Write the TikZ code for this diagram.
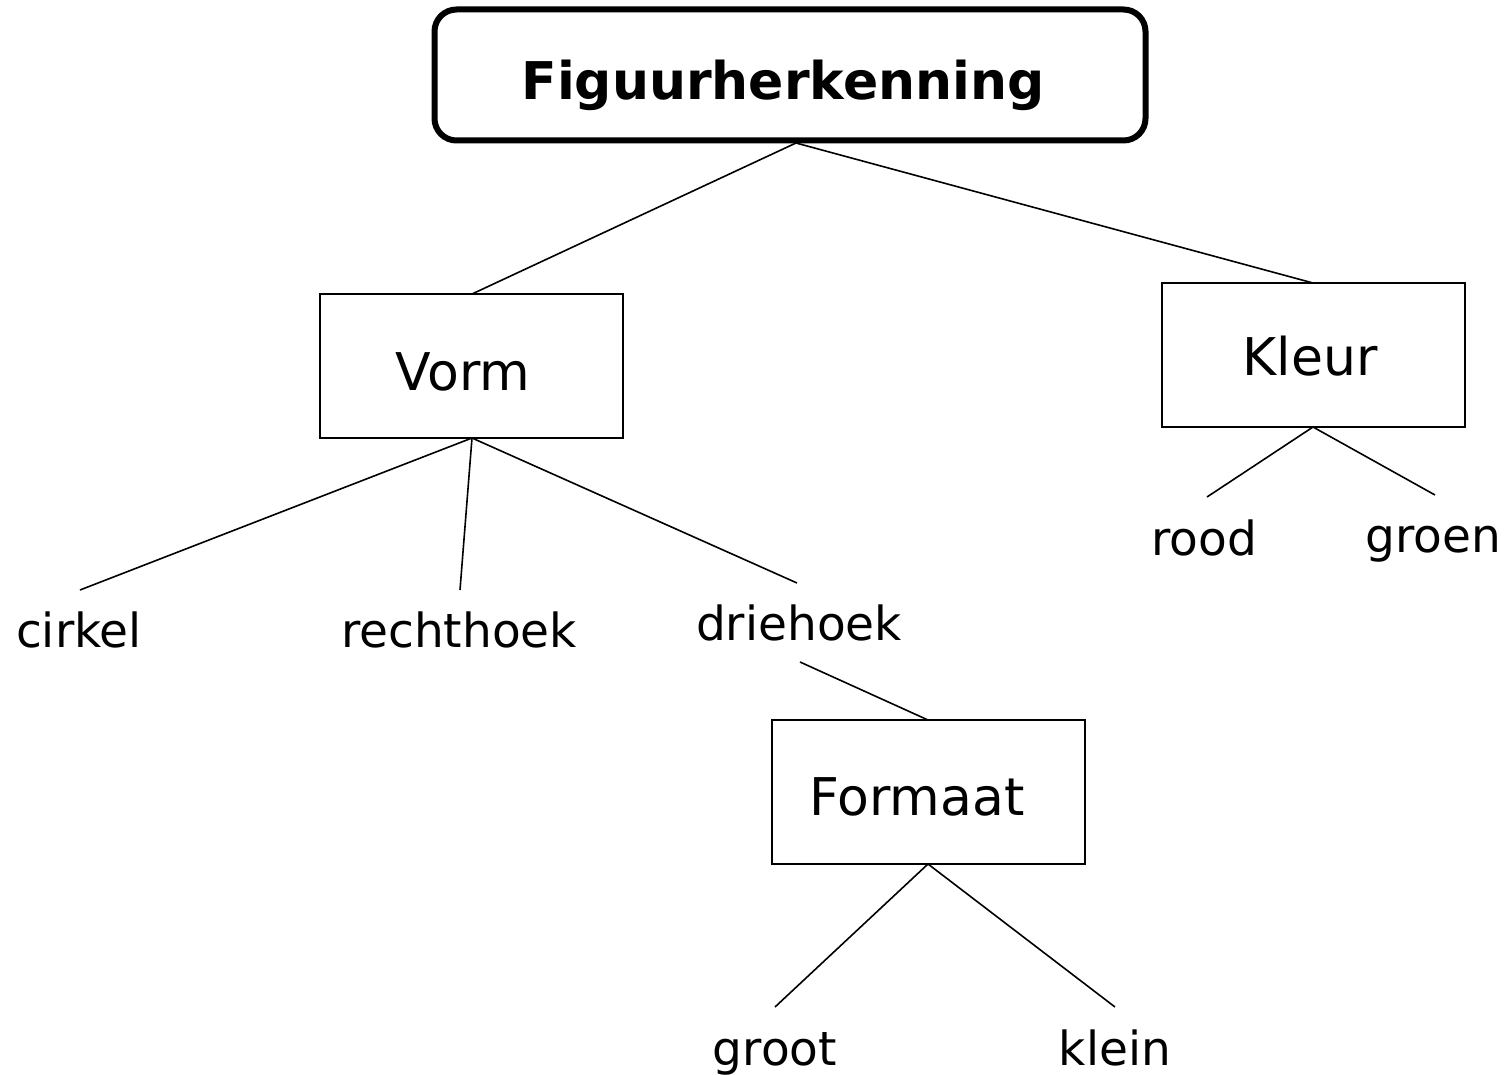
\documentclass[tikz,border=0pt]{standalone}
\usepackage{fontspec}
\setmainfont{DejaVu Sans}
\begin{document}
\begin{tikzpicture}[x=1pt,y=-1pt,
  conn/.style={line width=1.6pt},
  boxnode/.style={draw,line width=1.6pt,minimum width=303pt,minimum height=144pt,inner sep=0pt},
  boxtext/.style={inner sep=0pt,anchor=base,font=\fontsize{52}{62}\selectfont},
  lbl/.style={inner sep=0pt,anchor=base,font=\fontsize{47}{56}\selectfont}]
\useasboundingbox (0,0) rectangle (1508,1075);
\node[draw,line width=6pt,rounded corners=22pt,minimum width=711pt,minimum height=131pt,inner sep=0pt] (top) at (790,75) {};
\node[boxtext,font=\bfseries\fontsize{52}{62}\selectfont] (topt) at (783,100) {Figuurherkenning};
\node[boxnode] (vorm) at (471.5,366) {};
\node[boxtext] (vormt) at (463,390) {Vorm};
\node[boxnode] (kleur) at (1313.5,355) {};
\node[boxtext] (kleurt) at (1310,375) {Kleur};
\node[boxnode,minimum width=313pt] (formaat) at (928.5,792) {};
\node[boxtext] (formaatt) at (917,815) {Formaat};
\node[lbl] (cirkel) at (79,647) {cirkel};
\node[lbl] (rechthoek) at (459,647) {rechthoek};
\node[lbl] (driehoek) at (799,640) {driehoek};
\node[lbl] (rood) at (1204,555) {rood};
\node[lbl] (groen) at (1433,552) {groen};
\node[lbl] (groot) at (775,1065) {groot};
\node[lbl] (klein) at (1115,1065) {klein};
\coordinate (topb) at (796,143);
\coordinate (vormtop) at (472,294);
\coordinate (kleurtop) at (1313,283);
\coordinate (vormb) at (472,438);
\coordinate (cirkelc) at (80,590);
\coordinate (rechtc) at (460,590);
\coordinate (driec) at (797,583);
\coordinate (drieb) at (800,662);
\coordinate (formtop) at (928,720);
\coordinate (formb) at (928,864);
\coordinate (grootc) at (775,1007);
\coordinate (kleinc) at (1115,1007);
\coordinate (kleurb) at (1313,427);
\coordinate (roodc) at (1207,497);
\coordinate (groenc) at (1435,495);
\draw[conn] (topb) -- (vormtop);
\draw[conn] (topb) -- (kleurtop);
\draw[conn] (vormb) -- (cirkelc);
\draw[conn] (vormb) -- (rechtc);
\draw[conn] (vormb) -- (driec);
\draw[conn] (drieb) -- (formtop);
\draw[conn] (formb) -- (grootc);
\draw[conn] (formb) -- (kleinc);
\draw[conn] (kleurb) -- (roodc);
\draw[conn] (kleurb) -- (groenc);
\end{tikzpicture}
\end{document}
